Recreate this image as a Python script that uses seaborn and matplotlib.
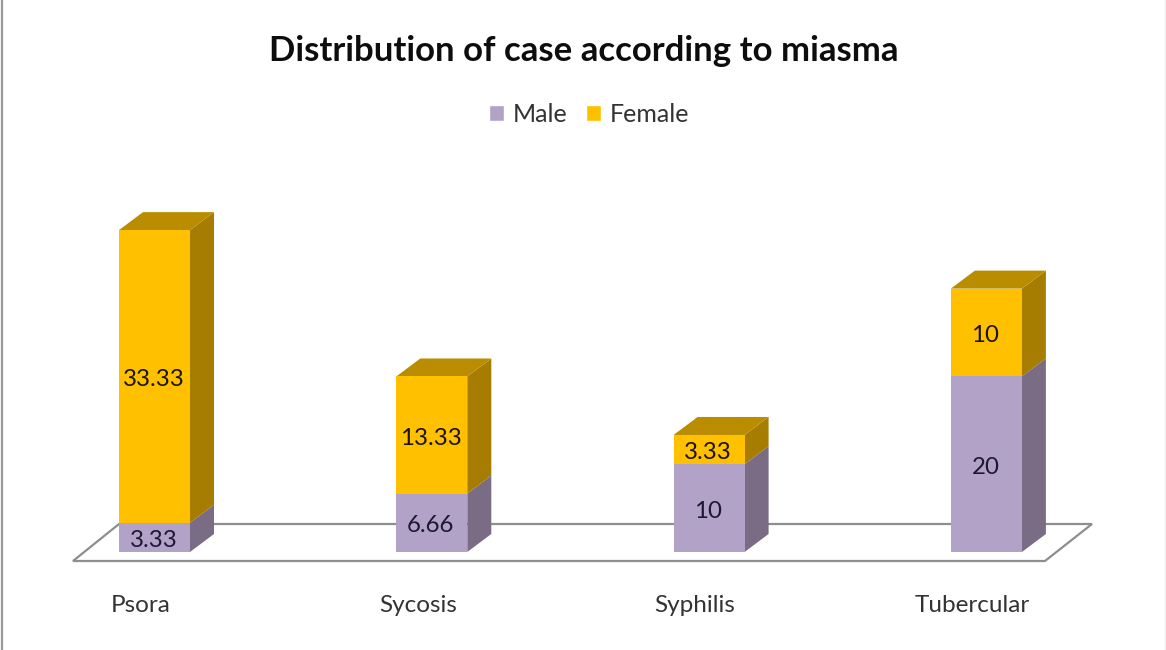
import matplotlib
matplotlib.use("Agg")
import matplotlib.pyplot as plt
from matplotlib.patches import Polygon, Rectangle
from matplotlib.transforms import ScaledTranslation
import pandas as pd
import seaborn as sns

categories = ["Psora", "Sycosis", "Syphilis", "Tubercular"]
male = [3.33, 6.66, 10, 20]
female = [33.33, 13.33, 3.33, 10]
male_labels = ["3.33", "6.66", "10", "20"]
female_labels = ["33.33", "13.33", "3.33", "10"]

sns.set_theme(style="white")
plt.rcParams["font.family"] = ["Lato", "DejaVu Sans"]

W, H = 1166, 650
BASE_PX, PX_PER_UNIT = 552, 8.78
FIRST_PX, STEP_PX = 154.5, 277.3
fig = plt.figure(figsize=(W / 100, H / 100), dpi=100, facecolor="white")
ax = fig.add_axes([0, (H - BASE_PX) / H, 1, BASE_PX / H])
df = pd.DataFrame({"cat": categories, "male": male, "female": female})
BAR_W = 71 / STEP_PX
sns.barplot(data=df, x="cat", y="male", color="#B2A2C7", saturation=1, width=BAR_W, ax=ax,
            zorder=3, linewidth=0, edgecolor="none")
sns.barplot(data=df, x="cat", y="female", bottom=df["male"], color="#FFC000", saturation=1, width=BAR_W, ax=ax,
            zorder=3, linewidth=0, edgecolor="none")
ax.set_xlim(-FIRST_PX / STEP_PX, (W - FIRST_PX) / STEP_PX)
ax.set_ylim(0, BASE_PX / PX_PER_UNIT)

# depth of the pseudo-3D columns, in data units
dx, dy = 24 / STEP_PX, 18 / PX_PER_UNIT
hw = BAR_W / 2
text_shift = 3 / PX_PER_UNIT
for i in range(len(categories)):
    m, t = male[i], male[i] + female[i]
    l, r = i - hw, i + hw
    ax.add_patch(Polygon([(r, 0), (r + dx, dy), (r + dx, m + dy), (r, m)], fc="#7A6C85", ec="none", zorder=2))
    ax.add_patch(Polygon([(r, m), (r + dx, m + dy), (r + dx, t + dy), (r, t)], fc="#A67D00", ec="none", zorder=2))
    ax.add_patch(Polygon([(l, t), (l + dx, t + dy), (r + dx, t + dy), (r, t)], fc="#BA8D00", ec="none", zorder=2))
    ax.text(i - 1 / STEP_PX, m / 2 - text_shift, male_labels[i], ha="center", va="center",
            fontsize=17.3, color="#1C1830", zorder=4)
    ax.text(i - 1 / STEP_PX, m + female[i] / 2 - text_shift, female_labels[i], ha="center", va="center",
            fontsize=17.3, color="#1C1400", zorder=4)

# floor parallelogram
f = -9 / PX_PER_UNIT
b = 28 / PX_PER_UNIT
ax.add_patch(Polygon([((73 - FIRST_PX) / STEP_PX, f), ((1045 - FIRST_PX) / STEP_PX, f),
                      ((1092 - FIRST_PX) / STEP_PX, b), ((119 - FIRST_PX) / STEP_PX, b)],
                     closed=True, fc="white", ec="#8E8E8E", lw=1.6, zorder=1, clip_on=False))

sns.despine(ax=ax, left=True, bottom=True)
ax.set_yticks([])
ax.set_xlabel("")
ax.set_ylabel("")
ax.tick_params(axis="x", length=0, pad=31, labelsize=17.5, labelcolor="#333333")
shift = ScaledTranslation(-14 / 100, 0, fig.dpi_scale_trans)
for lab in ax.get_xticklabels():
    lab.set_transform(lab.get_transform() + shift)
ax.grid(False)
ax.patch.set_alpha(0)

fig.text(584 / W, 1 - 51 / H, "Distribution of case according to miasma", ha="center", va="center",
         fontsize=25, fontweight="bold", color="#0D0D0D")

handles = [Rectangle((0, 0), 1, 1, fc="#B2A2C7"), Rectangle((0, 0), 1, 1, fc="#FFC000")]
fig.legend(handles, ["Male", "Female"], loc="center", bbox_to_anchor=(589 / W, 1 - 114.5 / H), ncol=2, frameon=False,
           fontsize=18, handlelength=0.6, handleheight=0.6, handletextpad=0.35, columnspacing=0.75,
           labelcolor="#333333")

fig.add_artist(plt.Line2D([1.5 / W, 1.5 / W], [0, 1], color="#9A9A9A", lw=1.6))
fig.add_artist(plt.Line2D([1165 / W, 1165 / W], [0, 1], color="#EDEDED", lw=1))
fig.savefig("out.png", dpi=100)
